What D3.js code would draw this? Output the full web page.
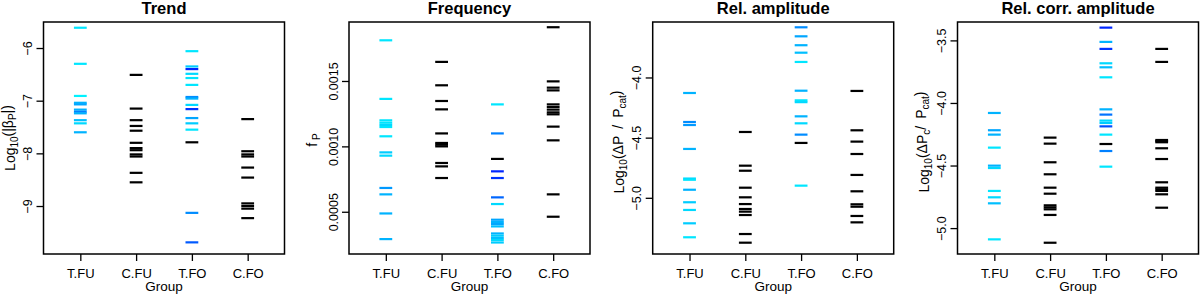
<!DOCTYPE html>
<html>
<head>
<meta charset="utf-8">
<script src="https://cdn.jsdelivr.net/npm/d3@7"></script>
<style>
  body { margin: 0; background: #fff; }
  svg { display: block; font-family: "Liberation Sans", Arial, sans-serif; }
</style>
</head>
<body>
<svg id="chart" width="1200" height="294"></svg>
<script>
// categories
const groups = ["T.FU", "C.FU", "T.FO", "C.FO"];

// Trend: log10(|beta_P|)
const trendTFU = [-5.615, -6.30, -6.91, -7.04, -7.07, -7.17, -7.21, -7.24, -7.37, -7.43, -7.60];
const trendTFUShade = [0.1, 0.1, 0.05, 0.3, 0.35, 0.3, 0.5, 0.3, 0.25, 0.15, 0.3];
const trendCFU = [-6.51, -7.15, -7.37, -7.48, -7.57, -7.80, -7.90, -7.94, -8.02, -8.06, -8.37, -8.55];
const trendTFO = [-6.06, -6.35, -6.40, -6.49, -6.57, -6.70, -6.93, -6.96, -7.08, -7.16, -7.33, -7.43, -7.55, -7.79, -9.13, -9.69];
const trendTFOShade = [0.1, 0.2, 0.85, 0.15, 0.1, 0.1, 0.45, 0.3, 0.15, 0.8, 0.35, 0.2, 0.1, null, 0.45, 0.65];
const trendCFO = [-7.35, -7.96, -8.02, -8.06, -8.27, -8.46, -8.95, -9.00, -9.05, -9.23];
const trendDomain = [-9.911, -5.506];
const trendTicks = [-9, -8, -7, -6];

// Frequency: f_P
const freqTFU = [0.001811, 0.001363, 0.001199, 0.001181, 0.001164, 0.001148, 0.001077, 0.000954, 0.000929, 0.000682, 0.000633, 0.000487, 0.000291];
const freqTFUShade = [0.1, 0.1, 0.1, 0.1, 0.15, 0.1, 0.1, 0.2, 0.15, 0.4, 0.3, 0.3, 0.3];
const freqCFU = [0.001646, 0.001467, 0.001347, 0.001283, 0.001099, 0.001026, 0.001013, 0.001000, 0.000873, 0.000847, 0.000758];
const freqTFO = [0.001321, 0.001099, 0.000904, 0.000809, 0.000758, 0.000610, 0.000559, 0.000439, 0.000421, 0.000406, 0.000388, 0.000334, 0.000317, 0.000299, 0.000284, 0.000265];
const freqTFOShade = [0.1, 0.5, null, 0.85, 0.8, 0.6, 0.15, 0.35, 0.3, 0.35, 0.25, 0.3, 0.2, 0.25, 0.15, 0.2];
const freqCFO = [0.001911, 0.001497, 0.001449, 0.001428, 0.001321, 0.001301, 0.001281, 0.001260, 0.001245, 0.001151, 0.001046, 0.000633, 0.000462];
const freqDomain = [0.000177, 0.001951];
const freqTicks = [0.0005, 0.0010, 0.0015];

// Rel. amplitude: log10(dP / P_cat)
const ampTFU = [-4.129, -4.37, -4.395, -4.594, -4.84, -4.85, -4.933, -5.037, -5.101, -5.212, -5.328];
const ampTFUShade = [0.3, 0.45, 0.4, 0.3, 0.15, 0.1, 0.3, 0.2, 0.15, 0.2, 0.1];
const ampCFU = [-4.453, -4.733, -4.775, -4.916, -4.996, -5.052, -5.093, -5.115, -5.143, -5.301, -5.373];
const ampTFO = [-3.583, -3.658, -3.732, -3.794, -3.871, -4.110, -4.19, -4.205, -4.323, -4.381, -4.475, -4.544, -4.899];
const ampTFOShade = [0.45, 0.35, 0.3, 0.25, 0.1, 0.3, 0.1, 0.15, 0.3, 0.15, 0.45, null, 0.1];
const ampCFO = [-4.112, -4.439, -4.533, -4.636, -4.810, -4.946, -5.054, -5.074, -5.151, -5.204];
const ampDomain = [-5.467, -3.539];
const ampTicks = [-5.0, -4.5, -4.0];

// Rel. corr. amplitude: log10(dP_c / P_cat)
const corrTFU = [-4.080, -4.218, -4.253, -4.357, -4.501, -4.520, -4.703, -4.754, -4.802, -5.090];
const corrTFUShade = [0.3, 0.35, 0.3, 0.1, 0.3, 0.15, 0.1, 0.15, 0.25, 0.1];
const corrCFU = [-4.277, -4.325, -4.474, -4.570, -4.677, -4.725, -4.818, -4.834, -4.850, -4.895, -5.117];
const corrTFO = [-3.398, -3.512, -3.568, -3.683, -3.715, -3.795, -4.051, -4.093, -4.141, -4.160, -4.187, -4.253, -4.328, -4.384, -4.509];
const corrTFOShade = [0.85, 0.3, 0.8, 0.15, 0.25, 0.1, 0.3, 0.55, 0.15, 0.2, 0.7, 0.1, null, 0.5, 0.1];
const corrCFO = [-3.568, -3.672, -4.296, -4.305, -4.314, -4.362, -4.448, -4.634, -4.677, -4.690, -4.703, -4.730, -4.837];
const corrDomain = [-5.207, -3.353];
const corrTicks = [-5.0, -4.5, -4.0, -3.5];

const svg = d3.select("#chart");
const plotTop = 22, plotBottom = 254, boxW = 241;
const shadeColor = d3.interpolateRgb("#00ffff", "#0000ff");

// builds the points for one panel (group index 1..4)
function points(lists, shades) {
    const out = [];
    lists.forEach((vals, i) => {
        vals.forEach((v, j) => {
            const s = shades[i] ? shades[i][j] : null;
            out.push({ g: i + 1, v: v, s: s });
        });
    });
    return out;
}

function panel(cfg) {
    const left = cfg.left, right = left + boxW;
    const x = d3.scaleLinear().domain([0.34, 4.66]).range([left, right]);
    const y = d3.scaleLinear().domain(cfg.domain).range([plotBottom, plotTop]);
    const g = svg.append("g");

    // title
    g.append("text")
        .attr("x", (left + right) / 2).attr("y", 13.5)
        .attr("text-anchor", "middle")
        .style("font-weight", "bold").style("font-size", "16.5px")
        .text(cfg.title);

    // marks
    g.selectAll("line.mark")
        .data(points(cfg.lists, cfg.shades))
        .join("line")
        .attr("class", "mark")
        .attr("x1", d => x(d.g) - 6.4).attr("x2", d => x(d.g) + 6.4)
        .attr("y1", d => y(d.v)).attr("y2", d => y(d.v))
        .attr("stroke", d => d.s == null ? "#000" : shadeColor(d.s))
        .attr("stroke-width", 2.2);

    // box
    g.append("rect")
        .attr("x", left).attr("y", plotTop)
        .attr("width", right - left).attr("height", plotBottom - plotTop)
        .attr("fill", "none").attr("stroke", "#000").attr("stroke-width", 1.5);

    // y axis
    const ya = g.append("g")
        .attr("transform", `translate(${left},0)`)
        .call(d3.axisLeft(y).tickValues(cfg.ticks).tickFormat(cfg.fmt).tickSize(7));
    ya.select(".domain").remove();
    ya.selectAll("line").attr("stroke-width", 1.3);
    ya.selectAll("text")
        .attr("x", null).attr("dy", null)
        .attr("text-anchor", "middle")
        .attr("transform", "translate(-11.5,0) rotate(-90)")
        .style("font-size", "12.5px").attr("fill", "#000")
        .style("font-family", "'Liberation Sans', Arial, sans-serif");

    // x axis
    const xa = g.append("g")
        .attr("transform", `translate(0,${plotBottom})`)
        .call(d3.axisBottom(x).tickValues([1, 2, 3, 4]).tickFormat(i => groups[i - 1]).tickSize(7));
    xa.select(".domain").remove();
    xa.selectAll("line").attr("stroke-width", 1.3);
    xa.selectAll("text")
        .attr("y", 23.5).attr("dy", null)
        .style("font-size", "13px").attr("fill", "#000")
        .style("font-family", "'Liberation Sans', Arial, sans-serif");

    g.append("text")
        .attr("x", (left + right) / 2).attr("y", 291)
        .attr("text-anchor", "middle")
        .style("font-size", "13.5px")
        .text("Group");

    // y label with subscripts
    const yl = g.append("text")
        .attr("text-anchor", "middle")
        .attr("transform", `translate(${left - cfg.labOff},${cfg.labY}) rotate(-90)`)
        .style("font-size", "14px");
    cfg.label.forEach(p => {
        const t = yl.append("tspan").text(p.t);
        if (p.sub) t.attr("dy", "0.3em").style("font-size", "10px");
        else if (p.back) t.attr("dy", "-0.3em");
        if (p.dx) t.attr("dx", p.dx);
    });
}

panel({
    left: 43.5, title: "Trend", domain: trendDomain, ticks: trendTicks, fmt: d3.format("d"),
    lists: [trendTFU, trendCFU, trendTFO, trendCFO], shades: [trendTFUShade, null, trendTFOShade, null],
    labOff: 29, labY: 138,
    label: [{ t: "Log" }, { t: "10", sub: true }, { t: "(|β", back: true }, { t: "P", sub: true }, { t: "|)", back: true }]
});
panel({
    left: 349, title: "Frequency", domain: freqDomain, ticks: freqTicks, fmt: d3.format(".4f"),
    lists: [freqTFU, freqCFU, freqTFO, freqCFO], shades: [freqTFUShade, null, freqTFOShade, null],
    labOff: 32, labY: 140,
    label: [{ t: "f" }, { t: "P", sub: true, dx: 3 }]
});
panel({
    left: 652.7, title: "Rel. amplitude", domain: ampDomain, ticks: ampTicks, fmt: d3.format(".1f"),
    lists: [ampTFU, ampCFU, ampTFO, ampCFO], shades: [ampTFUShade, null, ampTFOShade, null],
    labOff: 29, labY: 142,
    label: [{ t: "Log" }, { t: "10", sub: true }, { t: "(ΔP\u2002/\u2002P", back: true }, { t: "cat", sub: true }, { t: ")", back: true }]
});
panel({
    left: 957.5, title: "Rel. corr. amplitude", domain: corrDomain, ticks: corrTicks, fmt: d3.format(".1f"),
    lists: [corrTFU, corrCFU, corrTFO, corrCFO], shades: [corrTFUShade, null, corrTFOShade, null],
    labOff: 29, labY: 142,
    label: [{ t: "Log" }, { t: "10", sub: true }, { t: "(ΔP", back: true }, { t: "c", sub: true }, { t: "/\u2002P", back: true }, { t: "cat", sub: true }, { t: ")", back: true }]
});
</script>
</body>
</html>
